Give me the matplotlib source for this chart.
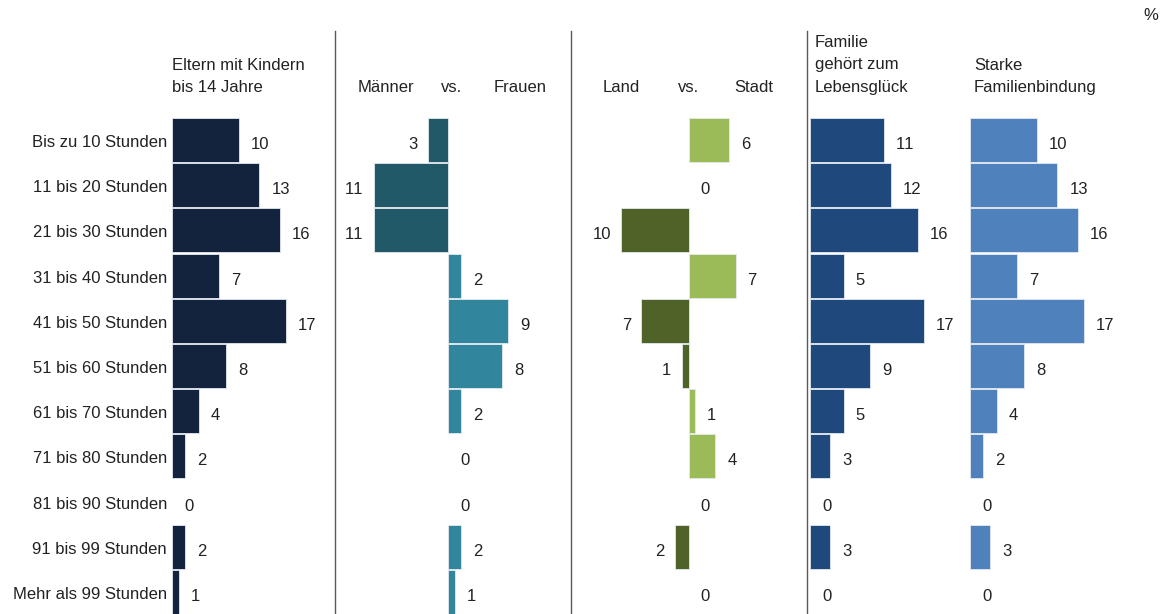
import matplotlib
matplotlib.use("Agg")
import matplotlib.pyplot as plt
from matplotlib.lines import Line2D

# --- data -----------------------------------------------------------------
categories = [
    "Bis zu 10 Stunden", "11 bis 20 Stunden", "21 bis 30 Stunden",
    "31 bis 40 Stunden", "41 bis 50 Stunden", "51 bis 60 Stunden",
    "61 bis 70 Stunden", "71 bis 80 Stunden", "81 bis 90 Stunden",
    "91 bis 99 Stunden", "Mehr als 99 Stunden",
]
eltern = [10, 13, 16, 7, 17, 8, 4, 2, 0, 2, 1]
# negative = Männer higher, positive = Frauen higher
maenner_vs_frauen = [-3, -11, -11, 2, 9, 8, 2, 0, 0, 2, 1]
# negative = Land higher, positive = Stadt higher
land_vs_stadt = [6, 0, -10, 7, -7, -1, 1, 4, 0, -2, 0]
lebensglueck = [11, 12, 16, 5, 17, 9, 5, 3, 0, 3, 0]
familienbindung = [10, 13, 16, 7, 17, 8, 4, 2, 0, 3, 0]

# --- layout ---------------------------------------------------------------
plt.rcParams["font.family"] = ["Liberation Sans", "DejaVu Sans"]
plt.rcParams["text.kerning_factor"] = 10  # effectively no pair kerning
W, H, DPI = 1162, 614, 100
PX_PER_UNIT = 6.72
ROW_PX = 45.2
FIRST_ROW_PX = 140.0
TEXT = "#222222"
FS = 12
PT = 72.0 / DPI  # points per pixel

fig = plt.figure(figsize=(W / DPI, H / DPI), dpi=DPI)
fig.patch.set_facecolor("white")

top_px = FIRST_ROW_PX - ROW_PX / 2
ax_h = (H - top_px) / H
y_bottom = -0.5 + (H - top_px) / ROW_PX

panels = [
    dict(values=eltern, left=172, zero=172, right=330,
         neg="#13233d", pos="#13233d", cats=True),
    dict(values=maenner_vs_frauen, left=338, zero=448, right=566,
         neg="#215968", pos="#31859c"),
    dict(values=land_vs_stadt, left=574, zero=688.5, right=802,
         neg="#4f6228", pos="#9bbb59"),
    dict(values=lebensglueck, left=810, zero=810, right=966,
         neg="#1f497d", pos="#1f497d"),
    dict(values=familienbindung, left=970, zero=970, right=1160,
         neg="#4f81bd", pos="#4f81bd"),
]

rows = list(range(len(categories)))

for p in panels:
    ax = fig.add_axes([p["left"] / W, 0, (p["right"] - p["left"]) / W, ax_h])
    ax.set_xlim((p["left"] - p["zero"]) / PX_PER_UNIT,
                (p["right"] - p["zero"]) / PX_PER_UNIT)
    ax.set_ylim(y_bottom, -0.5)
    ax.axis("off")
    vals = p["values"]
    colors = [p["pos"] if v >= 0 else p["neg"] for v in vals]
    widths = [0.6 if v != 0 else 0 for v in vals]
    ax.barh(rows, vals, height=0.975, color=colors,
            edgecolor="#e4e9ef", linewidth=widths)
    for i, v in zip(rows, vals):
        if v >= 0:
            off, ha = 12 * PT, "left"
        else:
            off, ha = -10.5 * PT, "right"
        ax.annotate(str(abs(v)), xy=(v, i), xytext=(off, -9 * PT),
                    textcoords="offset points", ha=ha, va="baseline",
                    fontsize=FS, color=TEXT, annotation_clip=False)
    if p.get("cats"):
        for i, c in zip(rows, categories):
            ax.annotate(c, xy=(0, i), xytext=(-5 * PT, -7 * PT),
                        textcoords="offset points", ha="right",
                        va="baseline", fontsize=FS, color=TEXT,
                        annotation_clip=False)

# column headers (x, baseline from top, text) in pixels
headers = [
    (172, 69.5, "Eltern mit Kindern"), (172, 92, "bis 14 Jahre"),
    (358, 92, "Männer"), (441, 92, "vs."), (494, 92, "Frauen"),
    (603, 92, "Land"), (678, 92, "vs."), (734, 92, "Stadt"),
    (815, 47, "Familie"), (815, 69.5, "gehört zum"), (815, 92, "Lebensglück"),
    (974, 69.5, "Starke"), (974, 92, "Familienbindung"),
    (1143, 20.5, "%"),
]
for x, yb, t in headers:
    fig.text(x / W, 1 - yb / H, t, ha="left", va="baseline",
             fontsize=FS, color=TEXT)

# vertical separators between the column groups
for x in (334.5, 570.5, 806.5):
    fig.add_artist(Line2D([x / W, x / W], [0, 1 - 31 / H],
                          transform=fig.transFigure, color="#595959",
                          linewidth=1.0))

fig.savefig("out.png", dpi=DPI, facecolor="white")
